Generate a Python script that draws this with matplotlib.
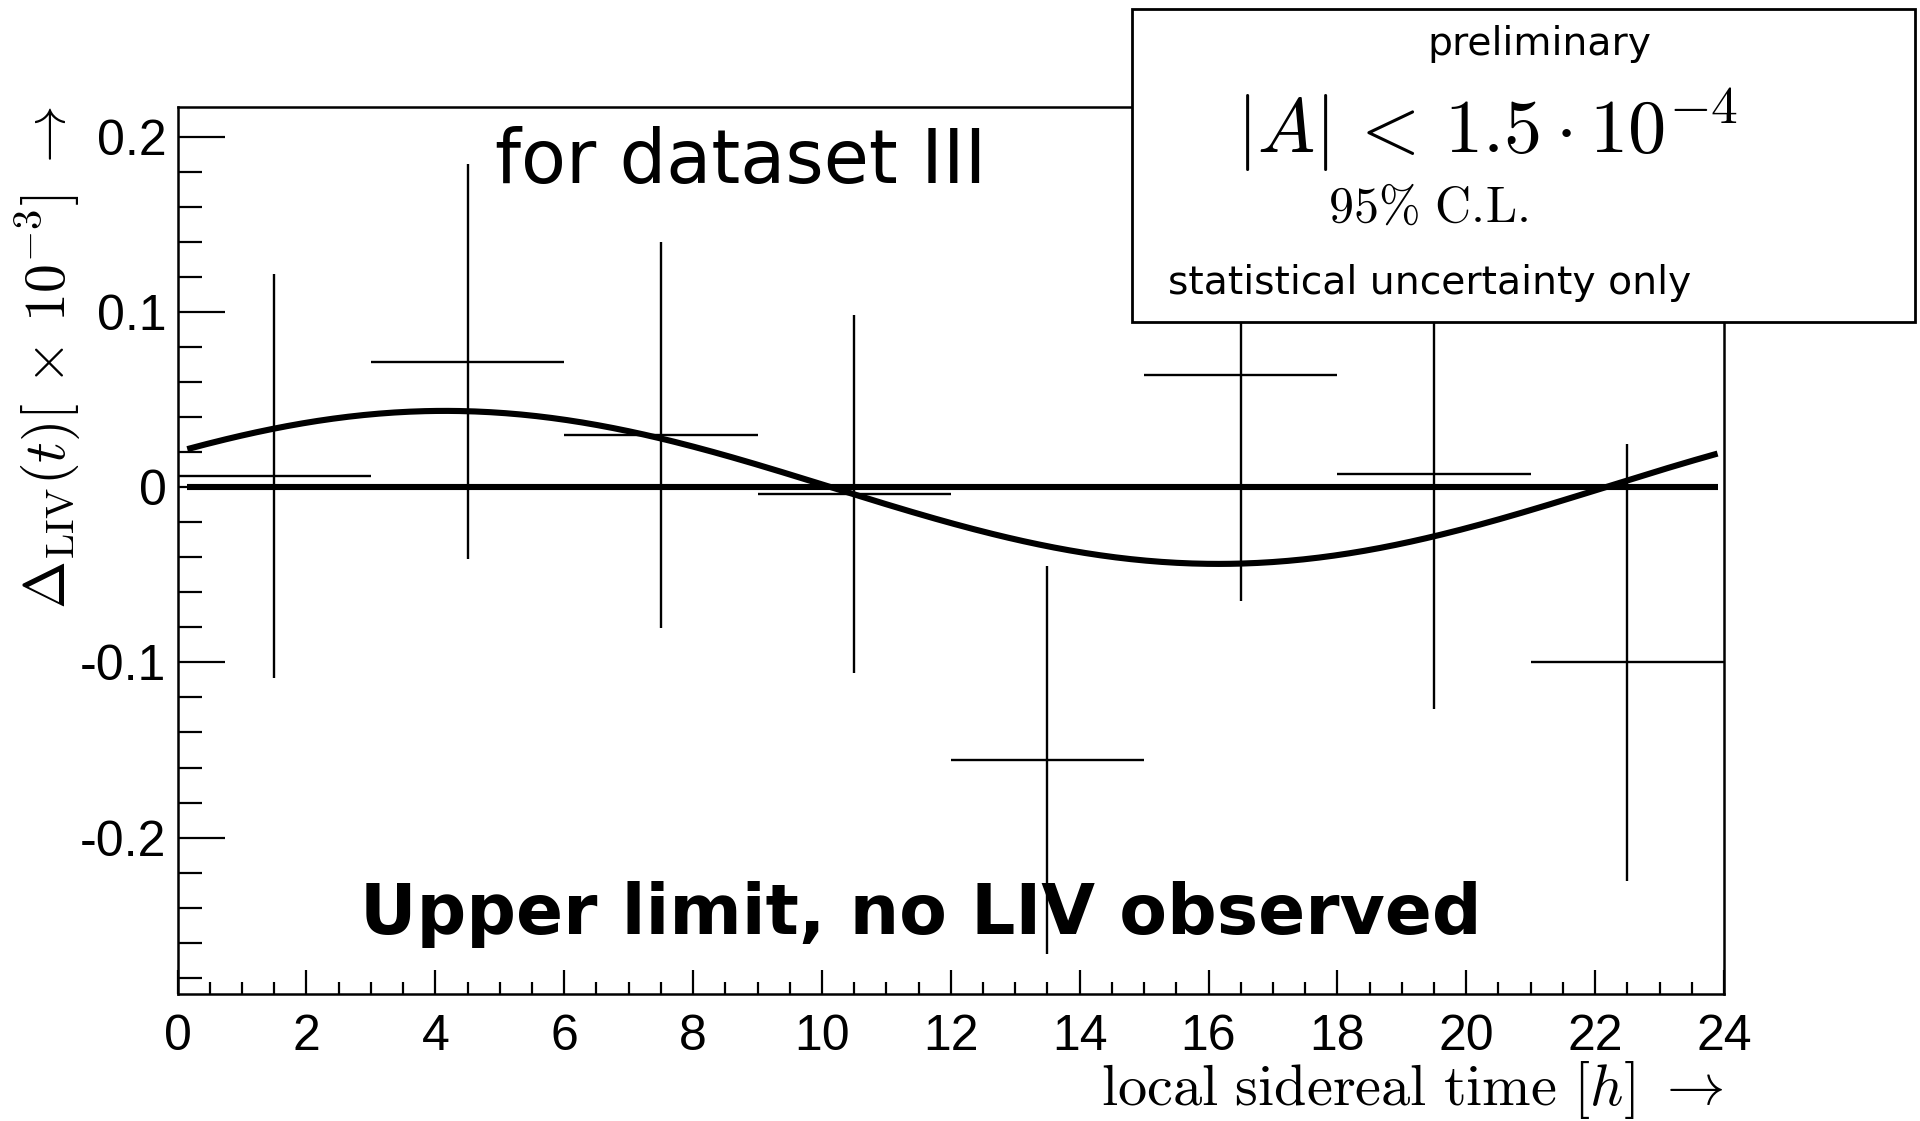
import numpy as np
import matplotlib
matplotlib.use("Agg")
import matplotlib.pyplot as plt
from matplotlib.patches import Rectangle
from matplotlib.ticker import MultipleLocator, FixedLocator

plt.rcParams['mathtext.fontset'] = 'cm'

# ---- data ----
bin_centers = [1.5, 4.5, 7.5, 10.5, 13.5, 16.5, 19.5, 22.5]
bin_halfwidth = [1.5, 1.5, 1.5, 1.5, 1.5, 1.5, 1.5, 1.5]
delta_values = [0.0065, 0.0718, 0.0299, -0.0040, -0.1555, 0.0642, 0.0076, -0.0998]
delta_errors = [0.1153, 0.1128, 0.1100, 0.1022, 0.1108, 0.1290, 0.1340, 0.1248]

fit_amplitude = 0.0437
fit_peak_time = 4.15
fit_period = 24.0
fit_range = [0.15, 23.9]

y_tick_values = [-0.2, -0.1, 0.0, 0.1, 0.2]
y_tick_labels = ['-0.2', '-0.1', '0', '0.1', '0.2']
x_tick_values = [0, 2, 4, 6, 8, 10, 12, 14, 16, 18, 20, 22, 24]
x_tick_labels = ['0', '2', '4', '6', '8', '10', '12', '14', '16', '18', '20', '22', '24']

W, H = 1920, 1121
fig = plt.figure(figsize=(W / 100, H / 100), dpi=100)
ax = fig.add_axes([177.6 / W, 1 - 994.4 / H, (1724 - 177.6) / W, (994.4 - 106.8) / H])
ax.set_xlim(0, 24)
ax.set_ylim(-0.2896, 0.2174)

# fit curve and zero line
t = np.linspace(fit_range[0], fit_range[1], 400)
fit_curve = fit_amplitude * np.cos(2 * np.pi * (t - fit_peak_time) / fit_period)
ax.plot(fit_range, [0, 0], color='black', lw=4.4, solid_capstyle='butt', zorder=3)
ax.plot(t, fit_curve, color='black', lw=4.4, solid_capstyle='butt', zorder=3)

ax.errorbar(bin_centers, delta_values, xerr=bin_halfwidth, yerr=delta_errors,
            fmt='none', ecolor='black', elinewidth=1.7, capsize=0, zorder=2)

# axes styling (ROOT-like)
for side in ['left', 'bottom', 'right', 'top']:
    ax.spines[side].set_linewidth(1.8)
ax.yaxis.set_major_locator(FixedLocator(y_tick_values))
ax.set_yticklabels(y_tick_labels)
ax.yaxis.set_minor_locator(MultipleLocator(0.02))
ax.xaxis.set_major_locator(FixedLocator(x_tick_values))
ax.set_xticklabels(x_tick_labels)
ax.xaxis.set_minor_locator(MultipleLocator(0.5))
ax.tick_params(axis='y', which='major', direction='in', length=34, width=1.6,
               left=True, right=False, pad=8)
ax.tick_params(axis='y', which='minor', direction='in', length=17, width=1.6,
               left=True, right=False)
ax.tick_params(axis='x', which='major', direction='in', length=17, width=1.6,
               bottom=True, top=False, pad=14)
ax.tick_params(axis='x', which='minor', direction='in', length=8.5, width=1.6,
               bottom=True, top=False)
for lab in ax.get_xticklabels() + ax.get_yticklabels():
    lab.set_fontfamily('Liberation Sans')
    lab.set_fontsize(36)

# axis titles
fig.text(1724 / W, 1 - 1090 / H, r'$\mathrm{local\ sidereal\ time}\ [h]\ \rightarrow$',
         ha='right', va='center', fontsize=42)
fig.text(48 / W, 1 - 107 / H, r'$\Delta_{\mathrm{LIV}}(t)[\,\times\,10^{-3}]\ \rightarrow$',
         ha='center', va='top', rotation=90, fontsize=41.5)

# in-plot texts
ax.text(741 / W, 1 - 163 / H, 'for dataset III', transform=fig.transFigure,
        ha='center', va='center', fontsize=53, fontfamily='DejaVu Sans')
ax.text(921 / W, 1 - 914 / H, 'Upper limit, no LIV observed', transform=fig.transFigure,
        ha='center', va='center', fontsize=50, fontweight='bold', fontfamily='DejaVu Sans')

# info box
box = Rectangle((1132 / W, 1 - 321.5 / H), (1915 - 1132) / W, (321.5 - 9) / H,
                transform=fig.transFigure, facecolor='white', edgecolor='black',
                lw=2.0, zorder=10)
fig.patches.append(box)
fig.text(1539 / W, 1 - 44 / H, 'preliminary', ha='center', va='center',
         fontsize=28.3, fontfamily='DejaVu Sans', zorder=11)
fig.text(1487 / W, 1 - 130 / H, r'$|A| \,<\, 1.5 \cdot 10^{-4}$', ha='center', va='center',
         fontsize=55, zorder=11)
fig.text(1428 / W, 1 - 208 / H, r'$\mathrm{95\%\ C.\!L.}$', ha='center', va='center',
         fontsize=36, zorder=11)
fig.text(1430 / W, 1 - 283 / H, 'statistical uncertainty only', ha='center', va='center',
         fontsize=28.3, fontfamily='DejaVu Sans', zorder=11)

fig.savefig('out.png', dpi=100)
